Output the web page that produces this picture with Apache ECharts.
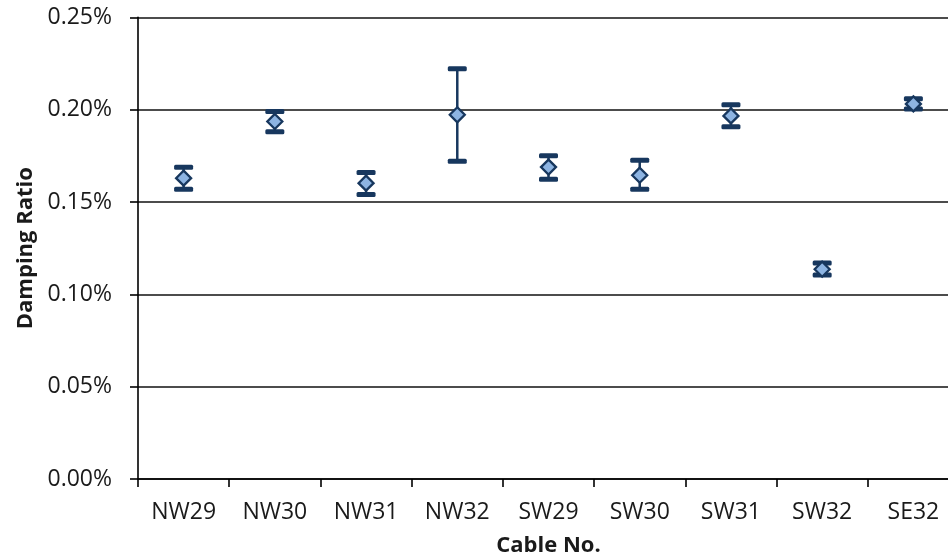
<!DOCTYPE html>
<html>
<head>
<meta charset="utf-8">
<script src="https://cdn.jsdelivr.net/npm/echarts@6/dist/echarts.min.js"></script>
<style>html,body{margin:0;padding:0;background:#fff;}#c{width:948px;height:559px;}</style>
</head>
<body>
<div id="c"></div>
<script>
const categories = ['NW29','NW30','NW31','NW32','SW29','SW30','SW31','SW32','SE32'];
const values = [0.1629, 0.1936, 0.1602, 0.1972, 0.1689, 0.1645, 0.1966, 0.1136, 0.2031];
const upper  = [0.1688, 0.1990, 0.1659, 0.2221, 0.1751, 0.1726, 0.2026, 0.1170, 0.2059];
const lower  = [0.1569, 0.1880, 0.1540, 0.1721, 0.1623, 0.1569, 0.1908, 0.1105, 0.2004];
const yTicks = [0, 0.05, 0.10, 0.15, 0.20, 0.25];

const FONT = '"Open Sans", sans-serif';
const NAVY = '#17375E';
const chart = echarts.init(document.getElementById('c'), null, {renderer: 'canvas'});
const errData = categories.map((c, i) => [i, lower[i], upper[i]]);

chart.setOption({
  animation: false,
  backgroundColor: '#fff',
  grid: {left: 138, top: 17.3, width: 821, height: 461.7, containLabel: false, outerBoundsMode: 'none'},
  xAxis: {
    type: 'category',
    data: categories,
    boundaryGap: true,
    name: 'Cable No.',
    nameLocation: 'middle',
    nameGap: 56,
    nameTextStyle: {fontFamily: FONT, fontSize: 22, fontWeight: 'bold', color: '#1a1a1a'},
    axisLine: {lineStyle: {color: '#000', width: 1.6}},
    axisTick: {show: true, alignWithLabel: false, length: 8, lineStyle: {color: '#000', width: 1.6}},
    axisLabel: {fontFamily: FONT, fontSize: 23, color: '#1a1a1a', margin: 22, interval: 0},
    splitLine: {show: false}
  },
  yAxis: {
    type: 'value',
    min: yTicks[0],
    max: yTicks[yTicks.length - 1],
    interval: 0.05,
    name: 'Damping Ratio',
    nameLocation: 'middle',
    nameGap: 101,
    nameTextStyle: {fontFamily: FONT, fontSize: 22, fontWeight: 'bold', color: '#1a1a1a'},
    axisLine: {show: true, lineStyle: {color: '#000', width: 1.6}},
    axisTick: {show: true, length: 8, lineStyle: {color: '#000', width: 1.6}},
    axisLabel: {fontFamily: FONT, fontSize: 23, color: '#1a1a1a', margin: 26,
      formatter: v => v.toFixed(2) + '%'},
    splitLine: {show: true, lineStyle: {color: '#111', width: 1.6}}
  },
  series: [
    {
      type: 'custom',
      z: 2,
      data: errData,
      renderItem: function (params, api) {
        const i = api.value(0);
        const lo = api.coord([i, api.value(1)]);
        const hi = api.coord([i, api.value(2)]);
        const capW = 19, capH = 5;
        return {
          type: 'group',
          children: [
            {type: 'line', shape: {x1: hi[0], y1: hi[1], x2: lo[0], y2: lo[1]},
             style: {stroke: NAVY, lineWidth: 2.5}},
            {type: 'rect', shape: {x: hi[0] - capW / 2, y: hi[1] - capH / 2, width: capW, height: capH, r: 1.5},
             style: {fill: NAVY}},
            {type: 'rect', shape: {x: lo[0] - capW / 2, y: lo[1] - capH / 2, width: capW, height: capH, r: 1.5},
             style: {fill: NAVY}}
          ]
        };
      }
    },
    {
      type: 'scatter',
      z: 3,
      symbol: 'diamond',
      symbolSize: 15,
      data: values,
      itemStyle: {color: '#8DB4E2', borderColor: NAVY, borderWidth: 2.3, opacity: 1}
    }
  ]
});
</script>
</body>
</html>
